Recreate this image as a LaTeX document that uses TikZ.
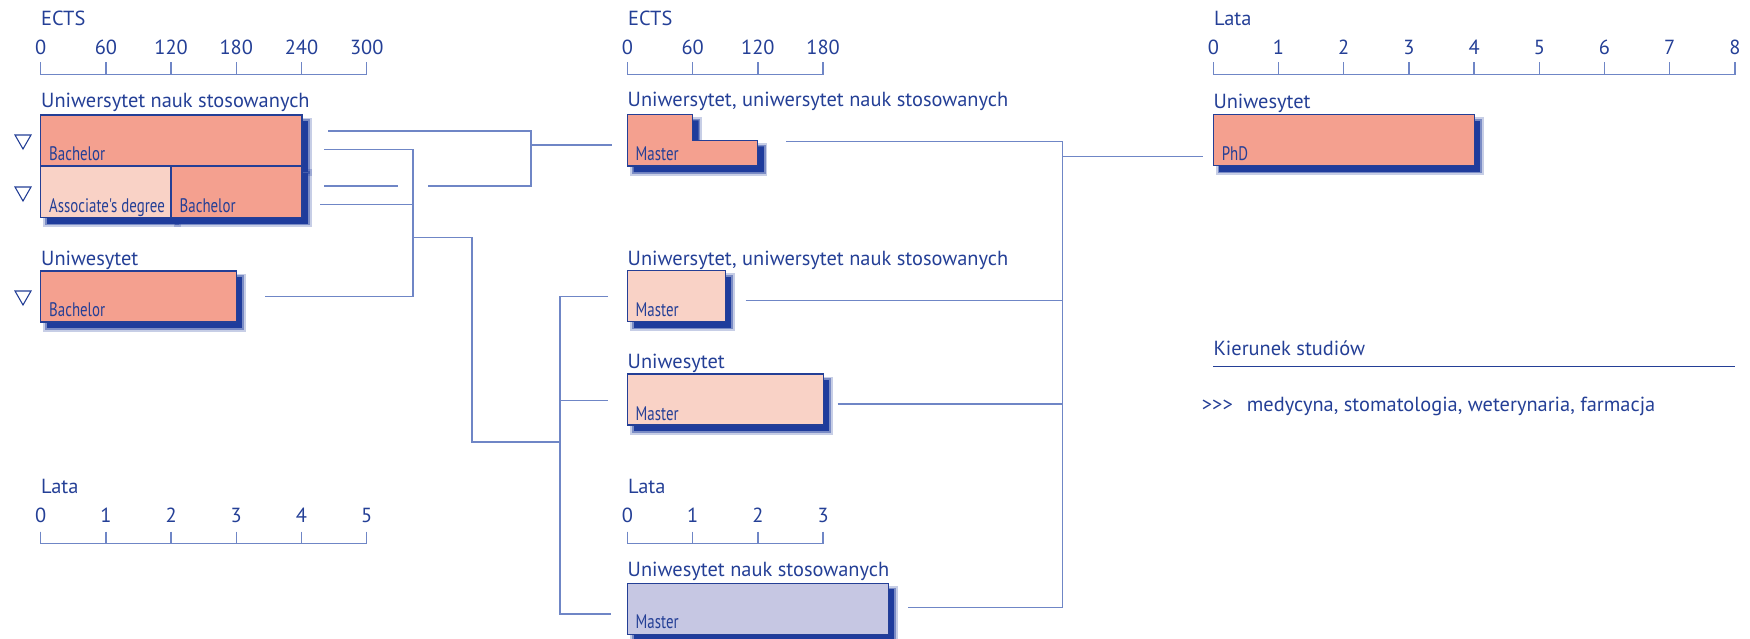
\documentclass[tikz,border=0pt]{standalone}
\usepackage{fontspec}
\setmainfont{PT Sans}
\newfontfamily\condfont[FakeStretch=0.76]{PT Sans}
\definecolor{tblue}{HTML}{243F96}
\definecolor{lblue}{HTML}{6F86C6}
\definecolor{sblue}{HTML}{1F3C9C}
\definecolor{salmon}{HTML}{F4A08F}
\definecolor{pinkl}{HTML}{F9D2C6}
\definecolor{lav}{HTML}{C6C7E3}
\tikzset{
 txt/.style={font=\fontsize{20.4}{24}\selectfont, text=tblue, inner sep=0, anchor=base west},
 num/.style={font=\fontsize{20.4}{24}\selectfont, text=tblue, inner sep=0, anchor=base},
 lbl/.style={font=\condfont\fontsize{19.6}{22}\selectfont, text=tblue, inner sep=0, anchor=base west},
 shadowed/.style={
   preaction={fill=sblue, draw=sblue, draw opacity=0.25, line width=7pt, transform canvas={shift={(6pt,-6pt)}}},
   preaction={draw=sblue, draw opacity=0.45, line width=3.5pt, transform canvas={shift={(6pt,-6pt)}}}},
 box/.style={shadowed, draw=tblue, line width=1.1pt, inner sep=0, outer sep=0, anchor=north west, minimum height=51pt},
 conn/.style={draw=lblue, line width=1.4pt},
 axisline/.style={draw=lblue, line width=1.5pt},
 tri/.style={draw=tblue, line width=1.1pt, line join=miter},
}
\begin{document}
\begin{tikzpicture}[x=1pt,y=-1pt]
\useasboundingbox (0,0) rectangle (1750,638);

% ---------- axes ----------
% left top ECTS
\node[txt] (ectsL) at (41,25) {ECTS};
\draw[axisline] (40.7,62) -- (40.7,74.7) -- (366.7,74.7) -- (366.7,62);
\foreach \i/\v in {0/0,1/60,2/120,3/180,4/240,5/300}{
  \node[num] (aL\i) at ({40.7+65.2*\i},54) {\v};
  \draw[axisline] ({40.7+65.2*\i},62) -- ({40.7+65.2*\i},74.7);
}
% middle top ECTS
\node[txt] (ectsM) at (628,25) {ECTS};
\draw[axisline] (627.5,62) -- (627.5,74.7) -- (823.1,74.7) -- (823.1,62);
\foreach \i/\v in {0/0,1/60,2/120,3/180}{
  \node[num] (aM\i) at ({627.5+65.2*\i},54) {\v};
  \draw[axisline] ({627.5+65.2*\i},62) -- ({627.5+65.2*\i},74.7);
}
% right top Lata
\node[txt] (lataR) at (1214,25) {Lata};
\draw[axisline] (1213.3,62) -- (1213.3,74.7) -- (1734.9,74.7) -- (1734.9,62);
\foreach \i in {0,...,8}{
  \node[num] (aR\i) at ({1213.3+65.2*\i},54) {\i};
  \draw[axisline] ({1213.3+65.2*\i},62) -- ({1213.3+65.2*\i},74.7);
}
% left bottom Lata
\node[txt] (lataL) at (41,493.3) {Lata};
\draw[axisline] (40.7,531.7) -- (40.7,543.3) -- (366.7,543.3) -- (366.7,531.7);
\foreach \i in {0,...,5}{
  \node[num] (bL\i) at ({40.7+65.2*\i},522.3) {\i};
  \draw[axisline] ({40.7+65.2*\i},531.7) -- ({40.7+65.2*\i},543.3);
}
% middle bottom Lata
\node[txt] (lataM) at (628,493.3) {Lata};
\draw[axisline] (627.5,531.7) -- (627.5,543.3) -- (823.1,543.3) -- (823.1,531.7);
\foreach \i in {0,...,3}{
  \node[num] (bM\i) at ({627.5+65.2*\i},522.3) {\i};
  \draw[axisline] ({627.5+65.2*\i},531.7) -- ({627.5+65.2*\i},543.3);
}

% ---------- left boxes ----------
\node[txt] (h1) at (41,107) {Uniwersytet nauk stosowanych};
\node[box, fill=salmon, minimum width=261.3pt] (b1) at (40.7,115) {};
\node[lbl] (b1l) at (49,160) {Bachelor};
\node[box, fill=pinkl, minimum width=130.3pt] (as) at (40.7,166.5) {};
\node[lbl] (asl) at (49,212.5) {Associate's degree};
\node[box, fill=salmon, minimum width=131pt] (b2) at (171,166.5) {};
\node[lbl] (b2l) at (179.5,212.5) {Bachelor};
\node[txt] (h2) at (41,265) {Uniwesytet};
\node[box, fill=salmon, minimum width=195.6pt] (b3) at (40.7,271) {};
\node[lbl] (b3l) at (49,316.5) {Bachelor};

% triangles
\draw[tri] (15,135) -- (31,135) -- (23,149) -- cycle;
\draw[tri] (15,187) -- (31,187) -- (23,201) -- cycle;
\draw[tri] (15,291) -- (31,291) -- (23,305) -- cycle;

% ---------- middle boxes ----------
\node[txt] (h3) at (627.5,106.7) {Uniwersytet, uniwersytet nauk stosowanych};
\path[shadowed, fill=salmon, draw=tblue, line width=1.1pt]
  (627.5,114.3) -- (692.7,114.3) -- (692.7,140.3) -- (757.9,140.3) -- (757.9,166) -- (627.5,166) -- cycle;
\node[lbl] (m1l) at (635.5,160) {Master};
\node[txt] (h4) at (627.5,265) {Uniwersytet, uniwersytet nauk stosowanych};
\node[box, fill=pinkl, minimum width=97.8pt] (m2) at (627.5,270.7) {};
\node[lbl] (m2l) at (635.5,316.5) {Master};
\node[txt] (h5) at (627.5,368.3) {Uniwesytet};
\node[box, fill=pinkl, minimum width=195.6pt] (m3) at (627.5,374) {};
\node[lbl] (m3l) at (635.5,420) {Master};
\node[txt] (h6) at (627.5,576) {Uniwesytet nauk stosowanych};
\node[box, fill=lav, minimum width=260.8pt] (m4) at (627.5,583.3) {};
\node[lbl] (m4l) at (635.5,628.3) {Master};

% ---------- right ----------
\node[txt] (h7) at (1213.3,108) {Uniwesytet};
\node[box, fill=salmon, minimum width=260.8pt] (phd) at (1213.3,114.7) {};
\node[lbl] (phdl) at (1221.7,160) {PhD};

\node[txt] (kier) at (1213.3,355) {Kierunek studiów};
\coordinate (k0) at (1213.3,366.7);
\coordinate (k1) at (1735,366.7);
\draw[draw=tblue, line width=1.3pt] (k0) -- (k1);
\node[txt] (gt) at (1201.7,411.7) {>{}>{}>};
\node[txt] (med) at (1246.7,411.7) {medycyna, stomatologia, weterynaria, farmacja};

% ---------- connectors, left group ----------
\coordinate (c1s) at (328,131);   \coordinate (j1t) at (531,131);
\coordinate (j1b) at (531,186);   \coordinate (c3b) at (428,186);
\coordinate (j1m) at (531,145);   \coordinate (m1in) at (612,145);
\coordinate (c2s) at (324,149.3); \coordinate (j2t) at (413,149.3);
\coordinate (c3s) at (324,186);   \coordinate (c3e) at (398,186);
\coordinate (c4s) at (320,204.7); \coordinate (j2c) at (413,204.7);
\coordinate (c5s) at (265,296.7); \coordinate (j2b) at (413,296.7);
\coordinate (j2m) at (413,237.7); \coordinate (k1a) at (472,237.7);
\coordinate (k2a) at (472,442);   \coordinate (k3a) at (560,442);
\coordinate (v1) at (560,296.7);  \coordinate (v2) at (560,614);
\coordinate (v3) at (560,400.3);
\coordinate (m2in) at (608,296.7); \coordinate (m3in) at (608,400.3); \coordinate (m4in) at (611,614);

\draw[conn] (c1s) -- (j1t) -- (j1b) -- (c3b);
\draw[conn] (j1m) -- (m1in);
\draw[conn] (c2s) -- (j2t) -- (j2b) -- (c5s);
\draw[conn] (c3s) -- (c3e);
\draw[conn] (c4s) -- (j2c);
\draw[conn] (j2m) -- (k1a) -- (k2a) -- (k3a);
\draw[conn] (m2in) -- (v1) -- (v2) -- (m4in);
\draw[conn] (v3) -- (m3in);

% ---------- connectors, right group ----------
\coordinate (r1) at (786,141.7);   \coordinate (R1) at (1062.7,141.7);
\coordinate (r2) at (745.7,300.7); \coordinate (R2) at (1062.7,300.7);
\coordinate (r3) at (837.7,404);   \coordinate (R3) at (1062.7,404);
\coordinate (r4) at (908.3,607.3); \coordinate (R4) at (1062.7,607.3);
\coordinate (Rm) at (1062.7,156.7); \coordinate (pin) at (1203.3,156.7);
\draw[conn] (r1) -- (R1) -- (R4) -- (r4);
\draw[conn] (r2) -- (R2);
\draw[conn] (r3) -- (R3);
\draw[conn] (Rm) -- (pin);
\end{tikzpicture}
\end{document}
